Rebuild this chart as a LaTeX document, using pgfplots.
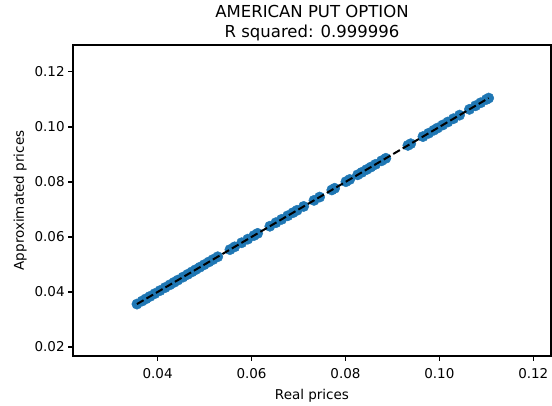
\documentclass[border=0pt]{standalone}
\usepackage{pgfplots}
\pgfplotsset{compat=1.18}
\usepackage{fontspec}
\setmainfont{DejaVu Sans}
\definecolor{mplblue}{HTML}{1F77B4}
\begin{document}
\begin{tikzpicture}
\begin{axis}[
  set layers,
  scale only axis,
  width=478pt, height=311pt,
  xmin=0.02198, xmax=0.12377,
  ymin=0.01672, ymax=0.1298,
  xtick={0.04,0.06,0.08,0.10,0.12},
  ytick={0.02,0.04,0.06,0.08,0.10,0.12},
  xticklabels={0.04,0.06,0.08,0.10,0.12},
  yticklabels={0.02,0.04,0.06,0.08,0.10,0.12},
  tick align=outside,
  tick pos=left,
  major tick length=4.8pt,
  every tick/.style={black, line width=1.1pt},
  axis line style={black, line width=1.1pt},
  tick label style={font=\fontsize{13.5}{16}\selectfont},
  x tick label style={yshift=-4pt},
  label style={font=\fontsize{13.5}{16}\selectfont},
  xlabel={Real prices},
  ylabel={Approximated prices},
  xlabel style={yshift=-4pt},
  ylabel style={yshift=1pt},
  title={AMERICAN PUT OPTION\\R squared: 0.999996},
  title style={font=\fontsize{16.5}{19.5}\selectfont, align=center, yshift=-5pt},
  clip=false,
]
\addplot[only marks, mark=*, mark size=5.2pt, mplblue, mark options={fill=mplblue, draw=mplblue}] coordinates {
(0.0356,0.0356)(0.0367,0.0367)(0.0375,0.0375)(0.0384,0.0384)(0.0394,0.0394)
(0.0405,0.0405)(0.0416,0.0416)(0.0426,0.0426)(0.0435,0.0435)(0.0443,0.0443)
(0.0454,0.0454)(0.0464,0.0464)(0.0473,0.0473)(0.0481,0.0481)(0.0490,0.0490)
(0.0499,0.0499)(0.0509,0.0509)(0.0518,0.0518)(0.0528,0.0528)(0.0554,0.0554)
(0.0564,0.0564)(0.0579,0.0579)(0.0592,0.0592)(0.0605,0.0605)(0.0613,0.0613)
(0.0639,0.0639)(0.0652,0.0652)(0.0664,0.0664)(0.0677,0.0677)(0.0688,0.0688)
(0.0697,0.0697)(0.0711,0.0711)(0.0733,0.0733)(0.0745,0.0745)(0.0771,0.0771)
(0.0777,0.0777)(0.0801,0.0801)(0.0809,0.0809)(0.0826,0.0826)(0.0835,0.0835)
(0.0845,0.0845)(0.0854,0.0854)(0.0864,0.0864)(0.0877,0.0877)(0.0886,0.0886)
(0.0933,0.0933)(0.0939,0.0939)(0.0965,0.0965)(0.0977,0.0977)(0.0988,0.0988)
(0.0996,0.0996)(0.1007,0.1007)(0.1018,0.1018)(0.1030,0.1030)(0.1043,0.1043)
(0.1064,0.1064)(0.1077,0.1077)(0.1088,0.1088)(0.1100,0.1100)(0.1105,0.1105)
};
\addplot[black, line width=2pt, dash pattern=on 7.7pt off 3.3pt, on layer=axis foreground] coordinates {(0.0356,0.0356)(0.1105,0.1105)};
\coordinate (sw) at (rel axis cs:0,0);
\coordinate (ne) at (rel axis cs:1,1);
\end{axis}
\pgfresetboundingbox
\path ([shift={(-73pt,-50pt)}]sw) rectangle ([shift={(1pt,45pt)}]ne);
\end{tikzpicture}
\end{document}
